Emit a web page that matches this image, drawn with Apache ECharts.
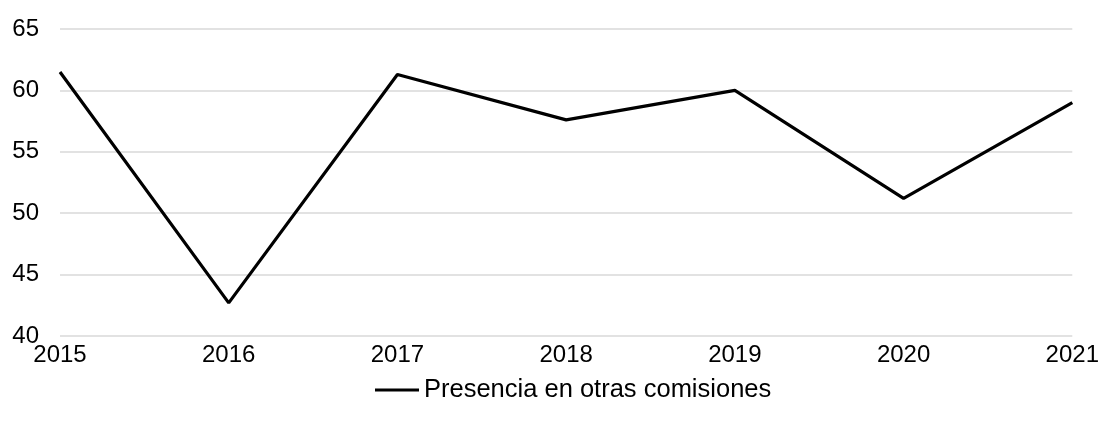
<!DOCTYPE html>
<html>
<head>
<meta charset="utf-8">
<script src="https://cdn.jsdelivr.net/npm/echarts@6/dist/echarts.min.js"></script>
<style>
html, body { margin: 0; padding: 0; background: #fff; }
#main { width: 1102px; height: 425px; }
</style>
</head>
<body>
<div id="main"></div>
<script>
var years = ['2015', '2016', '2017', '2018', '2019', '2020', '2021'];
var presencia = [61.5, 42.7, 61.3, 57.6, 60.0, 51.2, 59.0];
var seriesName = 'Presencia en otras comisiones';

var myChart = echarts.init(document.getElementById('main'));
var option = {
    animation: false,
    textStyle: { fontFamily: 'Liberation Sans, Arial, sans-serif' },
    grid: {
        left: 60,
        right: 29,
        top: 29,
        bottom: 89
    },
    legend: {
        top: 372,
        left: 370,
        data: [seriesName],
        icon: 'rect',
        itemWidth: 44,
        itemHeight: 3,
        textStyle: { color: '#000', fontSize: 25.5 }
    },
    xAxis: {
        type: 'category',
        data: years,
        boundaryGap: false,
        axisLine: { show: false },
        axisTick: { show: false },
        axisLabel: { color: '#000', fontSize: 24, margin: 7 }
    },
    yAxis: {
        type: 'value',
        min: 40,
        max: 65,
        interval: 5,
        axisLine: { show: false },
        axisTick: { show: false },
        axisLabel: { color: '#000', fontSize: 24, margin: 21 },
        splitLine: { lineStyle: { color: '#d9d9d9', width: 1.5 } }
    },
    series: [{
        name: seriesName,
        type: 'line',
        data: presencia,
        symbol: 'none',
        itemStyle: { color: '#000' },
        lineStyle: { color: '#000', width: 3.2 }
    }]
};
myChart.setOption(option);
window.onresize = myChart.resize;
</script>
</body>
</html>
